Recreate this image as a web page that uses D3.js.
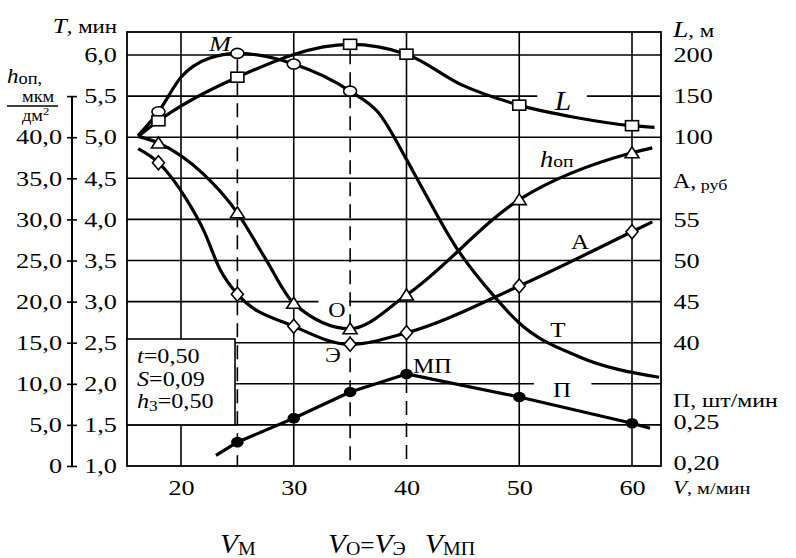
<!DOCTYPE html>
<html>
<head>
<meta charset="utf-8">
<script src="https://cdn.jsdelivr.net/npm/d3@7"></script>
<style>
body { margin: 0; background: #fff; }
text { font-family: "Liberation Serif", "Times New Roman", serif; fill: #000; }
</style>
</head>
<body>
<script>
// ticks
var vTicks = [20, 30, 40, 50, 60];
var tTicks = [1.0, 1.5, 2.0, 2.5, 3.0, 3.5, 4.0, 4.5, 5.0, 5.5, 6.0];
var hTicks = [0, 5, 10, 15, 20, 25, 30, 35, 40, 45];
var lTicks = [100, 150, 200];
var aTicks = [40, 45, 50, 55];
var pTicks = [0.20, 0.25];

// T, мин (circles)
var tLineV = [16.2, 18, 20, 22.5, 25, 30, 35, 37.5, 40, 41, 44.4, 47.8, 50, 55.3, 62.4];
var tLine  = [5.02, 5.31, 5.73, 5.96, 6.02, 5.89, 5.56, 5.30, 4.73, 4.48, 3.66, 3.06, 2.74, 2.33, 2.08];
var tMarkV = [18, 25, 30, 35];

// L, м (squares)
var lLineV = [16.2, 18, 25, 35, 40, 45, 50, 55, 60, 62];
var lLine  = [101, 120, 173, 213, 201, 163, 139, 124, 114, 112];
var lMarkV = [18, 25, 35, 40, 50, 60];

// h оп, мкм/дм2 (triangles)
var hLineV = [16.2, 18, 22, 25, 27.5, 30, 35, 40, 50, 60, 61.8];
var hLine  = [40.1, 39.3, 35.5, 30.8, 25.2, 19.8, 16.7, 20.8, 32.4, 38.1, 38.7];
var hMarkV = [18, 25, 30, 35, 40, 50, 60];

// A, руб (diamonds)
var aLineV = [16.2, 18, 20.5, 22, 23.5, 25, 30, 35, 40, 50, 60, 61.8];
var aLine  = [63.6, 61.9, 57.4, 53.7, 48.8, 45.9, 42.0, 39.8, 41.2, 46.9, 53.5, 54.7];
var aMarkV = [18, 25, 30, 35, 40, 50, 60];

// П, шт/мин (dots)
var pLineV = [23.1, 25, 30, 35, 40, 50, 60, 61.6];
var pLine  = [0.213, 0.229, 0.258, 0.290, 0.312, 0.284, 0.252, 0.246];
var pMarkV = [25, 30, 35, 40, 50, 60];

var width = 796, height = 558;
var x0 = 127, x1 = 661, y0 = 32, y1 = 466;

var svg = d3.select("body").append("svg")
    .attr("width", width)
    .attr("height", height);

var x = d3.scaleLinear().domain([20, 60]).range([181, 632]);
// every value axis is tied to the same grid
var yT = d3.scaleLinear().domain([1, 6]).range([y1, 55]);
var yH = d3.scaleLinear().domain([0, 50]).range([y1, 55]);
var yL = d3.scaleLinear().domain([-300, 200]).range([y1, 55]);
var yA = d3.scaleLinear().domain([25, 75]).range([y1, 55]);
var yP = d3.scaleLinear().domain([0.20, 0.70]).range([y1, 55]);

var S = 1.25; // the scan is stretched sideways
var comma = function(f) { return function(d) { return d3.format(f)(d).replace(".", ","); }; };

function label(px, py, parts, anchor, sx) {
    var t = svg.append("text")
        .attr("transform", "translate(" + px + "," + py + ") scale(" + (sx || S) + ",1)")
        .attr("text-anchor", anchor || "start");
    parts.forEach(function(p) {
        t.append("tspan").text(p[0])
            .attr("font-size", p[1])
            .attr("font-style", p[2] ? "italic" : null)
            .attr("dy", p[3] || 0);
    });
    return t;
}

// grid
var grid = svg.append("g").attr("stroke", "#000").attr("stroke-width", 1.6);
var gaps = { "5.5": [51.6, 56.0], "3": [32.2, 34.9], "2": [51.3, 56.4] };
tTicks.slice(1).forEach(function(t) {
    var segs = [[x0, x1]];
    var g = gaps[String(t)];
    if (g) segs = [[x0, x(g[0])], [x(g[1]), x1]];
    segs.forEach(function(s) {
        grid.append("line").attr("x1", s[0]).attr("x2", s[1])
            .attr("y1", yT(t)).attr("y2", yT(t));
    });
});
vTicks.forEach(function(v) {
    var bottom = v === 40 ? yP(pLine[pLineV.indexOf(40)]) : y1;
    grid.append("line").attr("x1", x(v)).attr("x2", x(v))
        .attr("y1", y0).attr("y2", bottom);
});

// dashed verticals V_M, V_O=V_Э, V_МП
var dash = svg.append("g").attr("stroke", "#000").attr("stroke-width", 1.6)
    .attr("stroke-dasharray", "14,8");
dash.append("line").attr("x1", x(25)).attr("x2", x(25))
    .attr("y1", yT(tLine[tLineV.indexOf(25)]) + 6).attr("y2", y1);
dash.append("line").attr("x1", x(35)).attr("x2", x(35))
    .attr("y1", yL(lLine[lLineV.indexOf(35)]) + 6).attr("y2", y1);
dash.append("line").attr("x1", x(40)).attr("x2", x(40))
    .attr("y1", yP(pLine[pLineV.indexOf(40)]) + 5).attr("y2", y1);

// frame
svg.append("rect").attr("x", x0).attr("y", y0)
    .attr("width", x1 - x0).attr("height", y1 - y0)
    .attr("fill", "none").attr("stroke", "#000").attr("stroke-width", 1.8);

// parameter box
svg.append("rect").attr("x", x0).attr("y", 339)
    .attr("width", 108).attr("height", yT(1.5) - 339)
    .attr("fill", "#fff").attr("stroke", "#000").attr("stroke-width", 1.6);
label(137, 363, [["t", 21, true], ["=0,50", 21]], "start", 1.15);
label(137, 386, [["S", 21, true], ["=0,09", 21]], "start", 1.15);
label(137, 408, [["h", 21, true], ["3", 15, false, 3], ["=0,50", 21, false, -3]], "start", 1.15);

// curves
function curve(vs, vals, y, kind) {
    var line = d3.line()
        .x(function(d, i) { return x(vs[i]); })
        .y(function(d) { return y(d); })
        .curve(kind);
    svg.append("path").attr("d", line(vals))
        .attr("fill", "none").attr("stroke", "#000").attr("stroke-width", 3.2)
        .attr("stroke-linejoin", "round");
}
curve(tLineV, tLine, yT, d3.curveMonotoneX);
curve(lLineV, lLine, yL, d3.curveMonotoneX);
curve(hLineV, hLine, yH, d3.curveMonotoneX);
curve(aLineV, aLine, yA, d3.curveMonotoneX);
curve(pLineV, pLine, yP, d3.curveLinear);

// markers
function marks(mv, vs, vals, y, shape) {
    var g = svg.append("g").attr("fill", "#fff").attr("stroke", "#000").attr("stroke-width", 1.6);
    mv.forEach(function(v) {
        var cx = x(v), cy = y(vals[vs.indexOf(v)]);
        if (shape === "circle") {
            g.append("ellipse").attr("cx", cx).attr("cy", cy).attr("rx", 6.5).attr("ry", 5);
        } else if (shape === "square") {
            g.append("rect").attr("x", cx - 6.5).attr("y", cy - 5).attr("width", 13).attr("height", 10);
        } else if (shape === "triangle") {
            g.append("path").attr("d", "M" + (cx - 7) + "," + (cy + 5) + "L" + cx + "," + (cy - 6) + "L" + (cx + 7) + "," + (cy + 5) + "Z");
        } else if (shape === "diamond") {
            g.append("path").attr("d", "M" + cx + "," + (cy - 7) + "L" + (cx + 6) + "," + cy + "L" + cx + "," + (cy + 7) + "L" + (cx - 6) + "," + cy + "Z");
        } else {
            g.append("ellipse").attr("cx", cx).attr("cy", cy).attr("rx", 5.5).attr("ry", 4.5).attr("fill", "#000");
        }
    });
}
marks(tMarkV, tLineV, tLine, yT, "circle");
marks(lMarkV, lLineV, lLine, yL, "square");
marks(hMarkV, hLineV, hLine, yH, "triangle");
marks(aMarkV, aLineV, aLine, yA, "diamond");
marks(pMarkV, pLineV, pLine, yP, "dot");

// axes
function styleAxis(g, sx) {
    g.select(".domain").remove();
    g.selectAll("text").attr("font-size", 21).attr("fill", "#000")
        .attr("transform", "scale(" + sx + ",1)");
}
var axT = svg.append("g").attr("transform", "translate(" + x0 + ",0)")
    .call(d3.axisLeft(yT).tickValues(tTicks).tickSize(0).tickPadding(8).tickFormat(comma(".1f")));
styleAxis(axT, S);

var axH = svg.append("g").attr("transform", "translate(72,0)")
    .call(d3.axisLeft(yH).tickValues(hTicks).tickSize(0).tickPadding(8)
        .tickFormat(function(d) { return d === 45 ? "" : d === 0 ? "0" : comma(".1f")(d); }));
styleAxis(axH, S);
axH.selectAll(".tick").append("line").attr("x1", -5).attr("x2", 5)
    .attr("stroke", "#000").attr("stroke-width", 1.6);
axH.append("line").attr("x1", 0).attr("x2", 0).attr("y1", yH(45)).attr("y2", yH(0))
    .attr("stroke", "#000").attr("stroke-width", 2);

[[yL, lTicks, d3.format("d")], [yA, aTicks, d3.format("d")], [yP, pTicks, comma(".2f")]].forEach(function(a) {
    var g = svg.append("g").attr("transform", "translate(" + x1 + ",0)")
        .call(d3.axisRight(a[0]).tickValues(a[1]).tickSize(0).tickPadding(10).tickFormat(a[2]));
    styleAxis(g, S);
    if (a[1] === pTicks) g.selectAll("text").attr("y", -3);
});

var axV = svg.append("g").attr("transform", "translate(0," + y1 + ")")
    .call(d3.axisBottom(x).tickValues(vTicks).tickSize(0).tickPadding(14));
styleAxis(axV, S);

// axis titles
label(117, 33, [["T", 21, true], [", мин", 19]], "end", 1.2);
label(7, 83, [["h", 20, true], ["оп,", 16, false, 1]], "start", 1.15);
label(22, 102, [["мкм", 16]], "start", 1.15);
svg.append("line").attr("x1", 7).attr("x2", 58).attr("y1", 106).attr("y2", 106)
    .attr("stroke", "#000").attr("stroke-width", 1.3);
label(22, 121, [["дм", 16], ["2", 11, false, -6]], "start", 1.15);

label(673, 37, [["L", 23, true], [", м", 19]], "start", 1.2);
label(673, 188, [["А,", 20], [" руб", 15, false, 2]], "start", 1.2);
label(673, 407, [["П, шт/мин", 19]], "start", 1.25);
label(673, 494, [["V", 19, true], [", м/мин", 17]], "start", 1.2);

// curve labels
label(220, 51, [["M", 22, true]], "middle", 1.2);
label(563, 110, [["L", 27, true]], "middle", 1.1);
label(540, 167, [["h", 23, true], ["оп", 17]], "start", 1.15);
label(580, 249, [["А", 20]], "middle", 1.25);
label(558, 337, [["Т", 20]], "middle", 1.25);
label(413, 373, [["МП", 20]], "start", 1.2);
label(562, 397, [["П", 20]], "middle", 1.25);
label(337, 317, [["О", 20]], "middle", 1.2);
label(333, 362, [["Э", 20]], "middle", 1.2);

// bottom captions
label(220, 553, [["V", 28, true], ["М", 19, false, 2]], "start", 1.05);
label(328, 553, [["V", 28, true], ["О", 19, false, 2], ["=", 24, false, -2], ["V", 28, true], ["Э", 19, false, 2]], "start", 1.05);
label(425, 553, [["V", 28, true], ["МП", 19, false, 2]], "start", 1.05);
</script>
</body>
</html>
